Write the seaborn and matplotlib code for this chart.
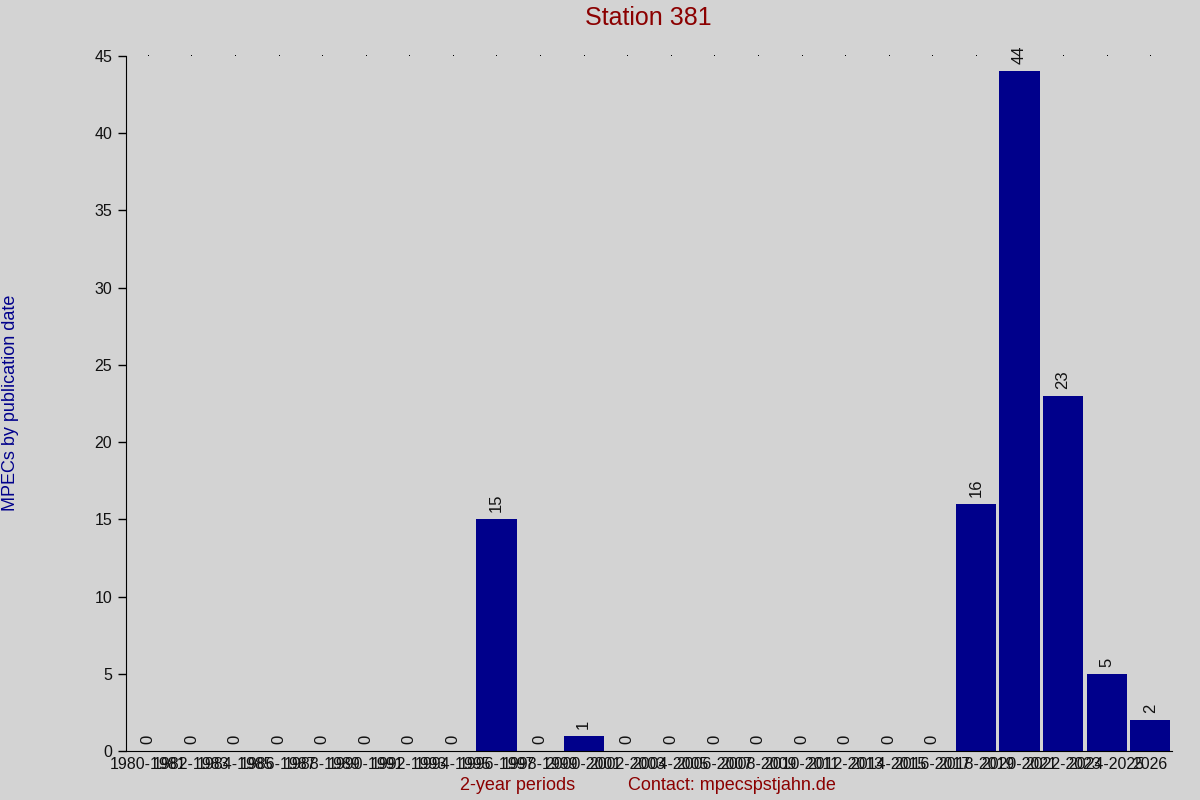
import matplotlib
matplotlib.use("Agg")
import matplotlib.pyplot as plt
import seaborn as sns
import pandas as pd

periods = ['1980-1981', '1982-1983', '1984-1985', '1986-1987', '1988-1989', '1990-1991',
           '1992-1993', '1994-1995', '1996-1997', '1998-1999', '2000-2001', '2002-2003',
           '2004-2005', '2006-2007', '2008-2009', '2010-2011', '2012-2013', '2014-2015',
           '2016-2017', '2018-2019', '2020-2021', '2022-2023', '2024-2025', '2026']
counts = [0, 0, 0, 0, 0, 0, 0, 0, 15, 0, 1, 0, 0, 0, 0, 0, 0, 0, 0, 16, 44, 23, 5, 2]
y_ticks = [0, 5, 10, 15, 20, 25, 30, 35, 40, 45]

df = pd.DataFrame({'period': periods, 'count': counts})

sns.set_style("ticks")
plt.rcParams['font.family'] = ['Liberation Sans', 'DejaVu Sans']

bg = '#d3d3d3'
fig = plt.figure(figsize=(12, 8), dpi=100, facecolor=bg)
ax = fig.add_axes([0.105, 0.06125, 0.8717, 0.86875])
ax.set_facecolor(bg)

sns.barplot(data=df, x='period', y='count', color='#00008b', saturation=1,
            width=0.92, linewidth=0, ax=ax)

# tiny dots along the top line
ax.plot(range(len(periods)), [y_ticks[-1]] * len(periods), linestyle='none',
        marker=',', color='black', clip_on=False, zorder=3)

for i, v in enumerate(counts):
    ax.annotate(str(v), (i, v), xytext=(0, 5), textcoords='offset points',
                rotation=90, ha='center', va='bottom', fontsize=12, color='#111111')

ax.set_xlim(-0.5, len(periods) - 0.5)
ax.set_ylim(0, 45)
ax.set_yticks(y_ticks)
ax.tick_params(axis='y', labelsize=11.5, length=6, width=1, color='black', pad=4)
ax.tick_params(axis='x', labelsize=11.5, length=0, pad=4)
for lbl in ax.get_xticklabels():
    lbl.set_color('#111111')
for lbl in ax.get_yticklabels():
    lbl.set_color('#111111')

sns.despine(ax=ax)
ax.spines['left'].set_color('black')
ax.spines['bottom'].set_color('black')
ax.set_xlabel('')
ax.set_ylabel('')

fig.text(0.54, 0.977, 'Station 381', ha='center', va='center', fontsize=18, color='#8b0000')
fig.text(0.009, 0.496, 'MPECs by publication date', rotation=90, ha='center', va='center',
         fontsize=13, color='#00008b')
fig.text(0.431, 0.0175, '2-year periods', ha='center', va='center', fontsize=13, color='#8b0000')
fig.text(0.61, 0.0175, 'Contact: mpecsṗstjahn.de', ha='center', va='center', fontsize=13,
         color='#8b0000')

fig.savefig('out.png', dpi=100, facecolor=bg)
